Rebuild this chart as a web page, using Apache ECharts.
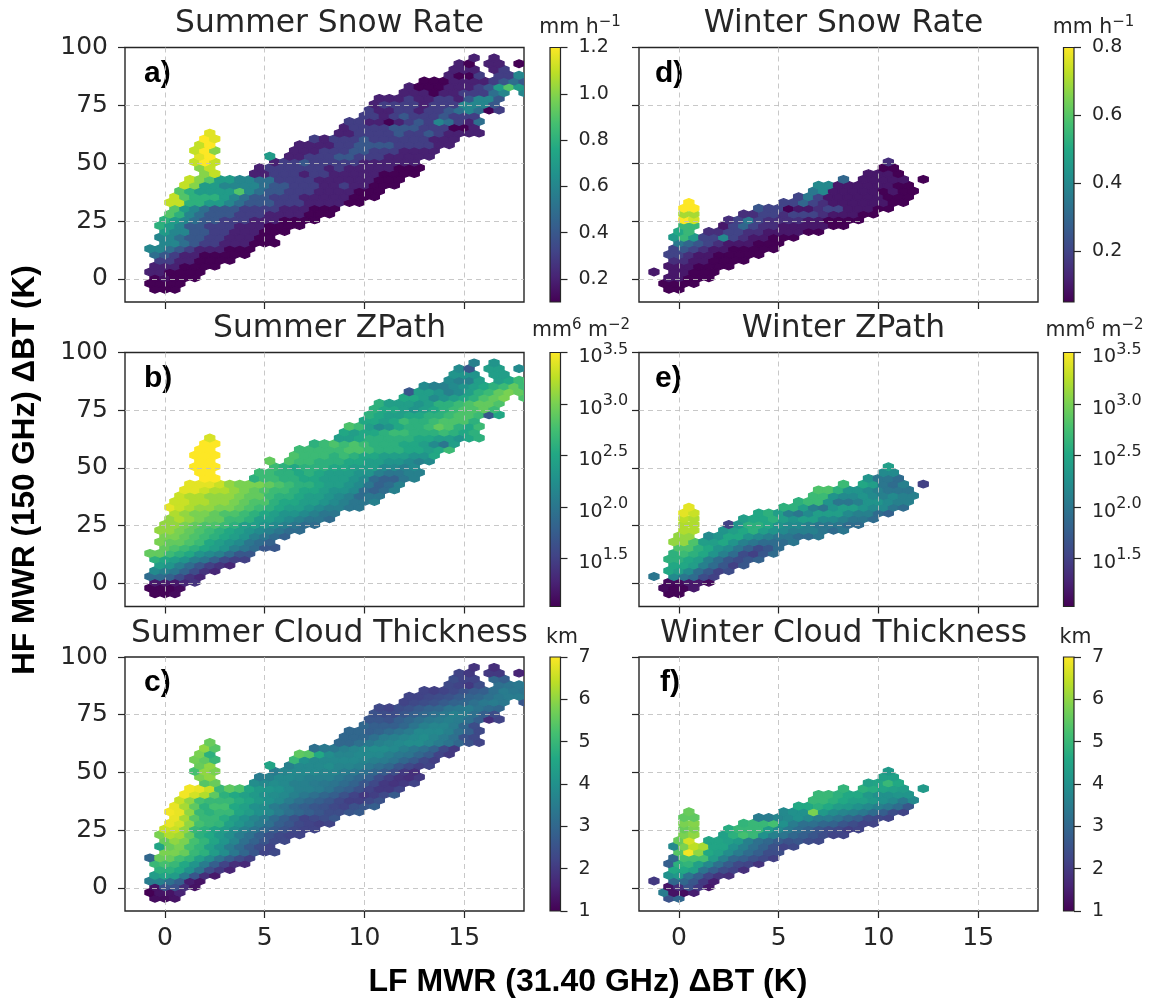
<!DOCTYPE html>
<html>
<head>
<meta charset="utf-8">
<style>html,body{margin:0;background:#fff}#chart{width:1149px;height:1002px}</style>
<script src="https://cdn.jsdelivr.net/npm/echarts@6/dist/echarts.min.js"></script>
</head>
<body>
<div id="chart"></div>
<script>
const _ = null;
const xTicks = [0, 5, 10, 15];
const yTicks = [0, 25, 50, 75, 100];
const cellWidth = 0.5;

// hex rows: row height (K) and x of first cell (K)
const summerY = [-4.5,-2,.5,3,5.5,8,10.5,13,15.5,18,20.5,23,25.5,28,30.5,33,35.5,38,40.5,43,45.5,48,50.5,53,55.5,58,60.5,63,65.5,68,70.5,73,75.5,78,80.5,83,85.5,88,90.5,93,95.5];
const summerStart = [-.5,-.75,-.5,-.75,-.5,-.25,-.5,-.75,0,-.25,0,-.25,0,.25,.5,.25,.5,.75,1,1.25,4.5,4.75,5.5,5.25,6.5,6.75,7.5,8.75,9,9.25,10,10.25,10.5,10.75,12,12.25,13,14.25,14.5,14.75,15.5];
const summerSpikeY = [45.5,48,50.5,53,55.5,58,60.5,63];
const summerSpikeStart = [2,1.75,1.5,1.75,1.5,1.75,2,2.25];
const winterY = [-4.5,-2,.5,3,5.5,8,10.5,13,15.5,18,20.5,23,25.5,28,30.5,33,35.5,38,40.5,43,45.5,48,50.5];
const winterStart = [-.5,-.75,-.5,-1.25,-.5,-.25,-.5,-.25,0,-.25,0,2.25,2.5,3.25,4,5.25,6,6.75,7,8.25,9.5,10.25,10.5];
const winterSpikeY = [23,25.5,28,30.5,33];
const winterSpikeStart = [.25,.25,.25,.25,.5];

// a) summer snow rate, mm/h
const snowSummer = [
[.1,.1,.1],[.1,.1,.1,.1],[.1,.15,.1,.1,.1],[.2,.2,.1,.1,.1,.1],[.2,.2,.2,.1,.1,.1,.1],[.3,.3,.2,.2,.1,.1,.1,.1],
[.5,.4,.3,.2,.2,.1,.1,.1,.1,.1],[.6,.6,.5,.4,.3,.2,.2,.2,.1,.1,.1],[.6,.6,.5,.4,.3,.3,.2,.2,.2,.1,.1,.1],
[.6,.6,.5,.4,.4,.3,.3,.2,.2,.2,.1,.1],[.7,.6,.6,.4,.4,.3,.3,.2,.2,.2,.1,.1,.1],[.8,.7,.6,.4,.4,.3,.3,.3,.2,.2,.2,.1,.1,.1,.1],
[.8,.7,.6,.5,.4,.4,.3,.3,.3,.2,.2,.2,.1,.1,.1,.1],[.9,.8,.6,.5,.4,.4,.4,.3,.3,.3,.2,.2,.2,.2,.1,.1,.1],
[.9,.7,.6,.5,.4,.4,.4,.3,.3,.3,.3,.2,.2,.2,.1,.1,.1],[1.1,1.1,.8,.8,.7,.7,.6,.5,.4,.4,.4,.3,.3,.3,.2,.2,.2,.2,.1,.1],
[1.1,.9,.8,.8,.8,.7,.6,.5,.4,.4,.3,.3,.3,.2,.2,.2,.2,.2,.1,.1,.1],[.9,.8,.7,.7,.7,.7,.9,.6,.5,.4,.4,.3,.3,.3,.2,.2,.2,.2,.1,.1,.1],
[1.1,1,.7,.7,.6,.6,.6,.6,.5,.4,.4,.3,.3,.3,.2,.2,.3,.2,.2,.1,.1,.1],[1.1,1,.9,.7,.7,.6,.6,.5,.5,.3,.3,.3,.3,.2,.2,.2,.2,.2,.2,.1,.1,.1],
[.2,.2,.3,.3,.3,.2,.3,.3,.2,.2,.2,.2,.2,.1,.1,.1,.1],[.2,.3,.3,.3,.3,.3,.3,.2,.3,.2,.2,.2,.2,.2,.1,.1,.1],
[.2,.3,.3,.4,.3,.3,.3,.3,.3,.2,.2,.2,.2,.2,.2],[.7,_,.2,.2,.3,.3,.3,.4,.4,.3,.3,.3,.2,.2,.2,.2,.2],
[.2,.2,.2,.3,.3,.3,.4,.4,.3,.3,.3,.2,.2,.2,.2],[.2,.2,.2,.2,.3,.3,.4,.4,.4,.4,.3,.3,.3,.3,.2,.2],
[.3,.2,.3,.3,.3,.4,.3,.3,.3,.3,.3,.3,.2,.2,.2],[.2,.2,.3,.3,.3,.3,.4,.3,.3,.4,.3,.2,.2,.2,.2],
[.2,.3,.3,.3,.3,.4,.4,.4,.3,.3,.3,.1,.1,.2],[.3,.3,.2,.2,.1,.2,.3,.4,.3,.6,.5,.3,.2,.5],
[.3,.3,.2,.3,.4,.3,.3,.3,.4,.3,.3,.3],[.3,.2,.2,.3,.3,.2,.3,.3,.4,.5,.6,.5,.1,.3],
[.2,.3,.3,.3,.3,.2,.3,.3,.3,.6,.6,.6,.4],[.2,.2,.2,.3,.2,.2,.3,.3,.2,.4,.6,.6,.4],
[.2,.2,.2,.1,.2,.2,.3,.3,.3,.5,.6,_,.6],[.2,.1,.1,.1,.2,.2,.2,.3,.4,.7,.9,.7,.6],
[.1,.1,.1,.2,.2,.2,.2,.3,.4,.5,.4],[.2,.1,.1,.3,_,.3,.3,.6,.6],[.2,.2,.2,_,.2,.3],[.2,.1,_,.2,.2,_,.1,.1,.1],[.2,_,.2]
];
const snowSummerSpike = [[1,1.1],[1,1.1],[1.1,1.2,1.1],[1.15,1.2],[1.1,1.2,1],[1.1,1.2],[1.2,1.15],[1.15]];

// b) summer ZPath, log10 mm6 m-2
const zpathSummer = [
[1.05,1.05,1.1],[1.05,1.05,1.05,1.1],[1.2,1.2,1.2,1.3,1.4],[1.9,1.9,1.8,1.6,1.4,1.3],[2.2,2.1,2,1.8,1.6,1.4,1.3],[2.4,2.3,2.1,1.9,1.7,1.5,1.4,1.3],
[2.6,2.5,2.4,2.3,2.1,2,1.8,1.6,1.5,1.5],[2.9,2.9,2.7,2.6,2.5,2.3,2.2,2.1,1.9,1.7,1.7],[2.9,2.8,2.7,2.6,2.5,2.4,2.3,2.1,2,1.9,1.7,1.7],
[3,2.9,2.9,2.8,2.7,2.5,2.4,2.3,2.2,2,1.9,1.8],[3,3,2.9,2.8,2.7,2.6,2.5,2.4,2.3,2.1,2,1.9,1.8],[3.1,3.1,3,2.9,2.8,2.7,2.6,2.5,2.4,2.3,2.2,2.1,2,1.9,1.9],
[3.1,3.1,3,2.9,2.8,2.8,2.7,2.6,2.4,2.4,2.3,2.2,2.1,2,1.9,1.9],[3.1,3.2,3.1,3,2.9,2.9,2.7,2.7,2.6,2.4,2.4,2.3,2.2,2.1,2,2,1.9],
[3.2,3.1,3,3,2.9,2.8,2.8,2.7,2.6,2.5,2.4,2.3,2.3,2.2,2.1,2,2],[3.4,3.3,3.2,3.1,3.1,3,3,2.9,2.8,2.7,2.6,2.5,2.4,2.4,2.3,2.2,2.1,2.1,2,2],
[3.3,3.3,3.2,3.2,3.1,3.1,3,2.9,2.8,2.8,2.6,2.5,2.5,2.4,2.4,2.3,2.2,2.1,2,2,2.1],[3.3,3.2,3.2,3.1,3.1,3.1,3,2.9,2.9,2.7,2.6,2.6,2.5,2.4,2.4,2.3,2.2,2.1,1.9,2,2],
[3.4,3.4,3.3,3.2,3.2,3.1,3,2.9,2.8,2.7,2.7,2.6,2.5,2.5,2.4,2.3,2.3,2.2,1.9,1.8,1.9,2.1],[3.4,3.4,3.4,3.3,3.1,3,3,3,2.9,2.8,2.7,2.6,2.6,2.5,2.4,2.4,2.3,2.2,2,1.8,1.9,2.1],
[2.6,2.7,2.7,2.6,2.6,2.5,2.5,2.4,2.4,2.4,2.3,2.2,1.9,1.8,1.8,2,2.1],[2.7,2.7,2.6,2.6,2.5,2.6,2.5,2.4,2.4,2.4,2.3,2.3,2.1,2,2,2.1,2.1],
[2.7,2.6,2.5,2.6,2.6,2.6,2.5,2.5,2.4,2.4,2.4,2.2,2.2,2.1,2.2],[2.9,_,2.8,2.7,2.7,2.6,2.6,2.6,2.5,2.5,2.4,2.4,2.3,2.3,2.2,2.1,2.2],
[2.8,2.7,2.7,2.7,2.6,2.7,2.6,2.5,2.5,2.4,2.4,2.4,2.3,2.3,2.5],[2.7,2.7,2.7,2.7,2.7,2.8,2.8,2.7,2.6,2.6,2.6,2.5,2.5,2.4,2.5,2.7],
[2.6,2.7,2.8,2.7,2.8,2.7,2.6,2.6,2.6,2.5,2.5,2.4,2.2,2,2.4],[2.4,2.4,2.5,2.6,2.6,2.6,2.6,2.6,2.5,2.5,2.4,2.4,2.3,2.5,2.6],
[2.5,2.4,2.5,2.5,2.6,2.7,2.7,2.6,2.6,2.6,2.7,2.6,2.5,2.6],[2.8,2.7,2.4,2.2,2.3,2.5,2.6,2.6,2.7,2.9,2.8,2.6,2.5,2.7],
[2.5,2.5,2.4,2.5,2.7,2.6,2.6,2.7,2.8,2.8,2.8,2.6],[2.6,2.5,2.4,2.4,2.5,2.5,2.6,2.6,2.7,2.8,2.8,2.7,1.7,2.5],
[2.6,2.5,2.5,2.4,2.3,2.4,2.5,2.6,2.7,2.8,2.8,2.9,2.7],[2.6,2.4,2.4,2.4,2.3,2.4,2.6,2.6,2.7,2.8,2.9,2.9,2.8],
[2.5,2.5,2.4,2.2,2.3,2.4,2.5,2.6,2.8,2.9,3,_,2.8],[1.7,2.4,2.4,2.3,2.1,2.2,2.4,2.6,2.7,2.9,3,2.9,2.7],
[2.2,2.1,2.1,2.2,2.3,2.4,2.5,2.6,2.7,2.9,2.7],[2.2,2.1,2.1,2.4,_,2.4,2.5,2.7,2.8],[2.3,2.3,2.3,_,2.4,2.4],[2.2,1.7,_,2.4,2.4,_,2.2,2.2,2.2],[2.1,_,2.3]
];
const zpathSummerSpike = [[3.5,3.5],[3.5,3.5],[3.5,3.5,3.5],[3.5,3.5],[3.5,3.5,3.5],[3.5,3.5],[3.5,3.5],[3.35]];

// c) summer cloud thickness, km
const thickSummer = [
[1.2,1.2,1.3],[1,1.3,1.3,1.6],[1.3,2.5,2.5,1.8,1.3],[3.5,3.6,3.2,2.8,1.5,1.3],[4.3,4.5,4.3,3.5,2.6,1.8,1.4],[4.8,4.8,4.6,4,3.3,2.4,2,1.6],
[5,5.2,5,4.6,4.1,3.5,2.8,2.2,1.8,1.7],[3,5.6,5.6,5.2,4.9,4.4,3.9,3.3,2.8,2.4,2.1],[5.8,5.8,5.6,5,4.8,4.3,3.9,3.4,3,2.6,2.2,2.3],
[4.5,5.6,5.8,5.2,4.9,4.4,4,3.5,3.1,2.7,2.4,2.2],[5.6,6,5.8,5.2,4.9,4.5,4.1,3.7,3.2,2.9,2.6,2.3,2.3],[5.8,6.3,6.2,5.6,4.8,4.6,4.2,3.9,3.5,3.2,2.8,2.5,2.3,2.2,2.2],
[6.5,6.5,6,5,4.8,4.5,4.3,3.9,3.6,3.3,3,2.7,2.5,2.3,2.2,2.2],[6.8,6.6,6,5.2,5,4.9,4.4,4.1,3.8,3.5,3.2,2.8,2.6,2.3,2.2,2.1,2.2],
[6.8,6.2,5.4,5,5,4.7,4.3,4,3.7,3.5,3.1,2.8,2.5,2.2,2.3,2.4,2.6],[6.9,6.8,6,5,4.8,5,5,4.5,4.3,4,3.8,3.5,3.2,3,2.8,2.6,2.4,2.4,2.6,2.7],
[6.8,6.2,5.5,4.8,5.2,5.2,4.6,4.4,4,3.9,3.5,3.3,3,2.8,2.6,2.5,2.3,2.2,2.5,2.6,2.8],[6.5,6,5.2,5,5,5,4.7,4.5,4.2,4,3.8,3.5,3.2,3,2.8,2.6,2.3,2.1,2.1,2.3,2.5],
[6.9,6.6,6.3,5.5,4.8,4.6,4.4,4.2,4,3.9,3.8,3.6,3.4,3.2,3,2.8,2.5,2.2,2,2.1,2.3,2.7],[6.9,6.8,6.5,5,5.5,5.3,4.5,4.2,4.1,4,3.8,3.6,3.6,3.5,3.3,3,2.8,2.5,2.2,2,2,2.2],
[3.9,3.8,3.9,3.8,3.6,3.6,3.5,3.4,3.3,3.1,2.9,2.6,2.3,2,1.9,2,2.2],[3.5,3.6,3.8,3.8,3.7,3.6,3.6,3.6,3.4,3.2,3,2.8,2.4,2.1,1.9,1.8,2],
[3.5,3.7,3.8,3.8,3.8,3.7,3.7,3.5,3.4,3.2,3,2.7,2.4,2,1.8],[4.5,_,3.6,3.8,3.8,3.8,3.9,3.7,3.7,3.6,3.4,3.2,3,2.6,2.3,2.1,2.2],
[5,4,3.8,3.8,3.8,3.8,3.8,3.7,3.6,3.5,3.3,3,2.7,2.3,2.1],[5.5,5.4,4.6,3.9,3.7,3.7,3.8,3.8,3.8,3.6,3.4,3.3,3,2.7,2.2,2],
[3.2,3.4,3.4,3.6,3.7,3.8,3.9,3.9,3.8,3.6,3.4,3.2,2.9,2.3,2],[3,3,3.2,3.4,3.6,3.7,3.8,3.9,3.9,3.7,3.5,3.3,3,2.5,2.2],
[3,3,3,3.2,3.5,3.6,3.7,3.8,3.9,3.7,3.5,3.2,2.5,2.3],[3,3,2.8,2.9,3.1,3.3,3.5,3.8,3.8,3.8,3.6,3.2,2.8,2.3],
[3,2.8,2.8,2.8,3,3.3,3.6,3.7,3.7,3.5,3,2.4],[2.6,2.6,2.5,2.8,3,3.2,3.4,3.5,3.6,3.5,3.2,2.8,1.8,2.2],
[2.5,2.4,2.4,2.6,2.8,3,3.2,3.4,3.6,3.5,3.2,2.8,2.4],[2.3,2.2,2.4,2.5,2.7,2.9,3,3.3,3.4,3.5,3.3,3.1,3],
[2.2,2.3,2.4,2.5,2.7,2.9,3,3.2,3.4,3.5,3.4,_,2.6],[2.2,2.2,2.3,2.4,2.5,2.7,2.9,3,3.2,3.4,3.5,3.5,3.4],
[2.2,2.1,2.2,2.3,2.5,2.7,2.8,3.2,3.5,3.4,3.3],[2.3,2.2,2,2.4,_,3.2,3.3,3.4,3.4],[2.4,2.2,2.2,_,3,2.8],[2.2,2,_,2,2,_,1.6,1.4,1.7],[1.9,_,1.8]
];
const thickSummerSpike = [[5.4,5.6],[5.8,6],[5.2,6,5.8],[5.6,6],[5.7,5.5,5],[5.8,4.8],[6,5.4],[5.6]];

// d) winter snow rate
const snowWinter = [
[.05,.05],[.05,.05,.05,.05],[.1,.1,.05,.05,.05],[.1,_,.1,.1,.05,.05,.05],[.1,.1,.1,.05,.05,.05,.05],[.15,.15,.1,.1,.05,.05,.05,.05],
[.2,.2,.15,.1,.1,.05,.05,.05,.05,.05],[.2,.25,.2,.15,.1,.1,.05,.05,.05,.05,.05],[.35,.3,.25,.2,.15,.1,.1,.1,.05,.05,.05],
[.45,.55,.45,.2,.2,.4,.2,.15,.1,.1,.05,.05,.05],[.5,.55,_,.15,.15,.2,.2,.15,.15,.1,.1,.1,.1,.05,.05],
[.1,.2,.3,.2,.15,.15,.1,.1,.1,.1,.1,.05,.05],[.15,.2,.35,.2,.15,.15,.15,.15,.1,.1,.05,.05,.05,.05],[.15,.15,.2,.2,.15,.2,.2,.2,.15,.1,.1,.1,.05,.05],
[.25,.2,.2,.05,.1,.1,.15,.2,.2,.1,.1,.1,.05,.05],[.2,.2,.3,.2,.15,.1,.1,.1,.1,.1,.1,.05,.05],[.2,.35,.2,.1,.1,.1,.1,.1,.1,.05,.05,.05],
[.35,.4,.1,.1,.1,.1,.1,.05,.1,.05,.05],[.4,.4,.1,.1,.1,.1,.1,.1,.05,.05],[.3,_,.1,.1,.1,.1,.1,_,.05],[.1,.1,.1,.05],[.05,.05],[.15]
];
const snowWinterSpike = [[.55,.55],[.8,.75],[.7,.7],[.8,.8],[.8]];

// e) winter ZPath
const zpathWinter = [
[1.05,1.05],[1.1,1.05,1.05,1.2],[1.1,1.1,1.2,1.2,1.1],[2,_,2.2,2,1.9,1.6,1.5],[2.5,2.4,2.2,1.9,1.7,1.5,1.6],[2.5,2.5,2.4,2.1,1.9,1.7,1.5,1.7],
[2.6,2.6,2.5,2.4,2.1,1.9,1.7,1.6,1.7,1.8],[2.6,2.7,2.6,2.5,2.3,2.1,1.9,1.6,1.5,1.7,1.9],[2.8,2.8,2.6,2.5,2.3,2.2,2,1.8,1.6,1.7,1.9],
[3.1,3.1,2.8,2.4,2.4,2.5,2.3,2.1,2,1.9,1.9,1.9,2],[3.1,3.1,_,2.2,2.3,2.5,2.5,2.3,2.2,2.1,2,2,1.9,1.9,2],
[2.3,2.4,2.5,2.6,2.4,2.3,2.2,2.1,2.1,2.1,2,1.9,2],[1.5,2.3,2.6,2.6,2.5,2.3,2.2,2.2,2.1,2,2,2,1.9,1.9],[2.4,2.5,2.5,2.6,2.4,2.3,2.4,2.4,2.2,2.2,2.1,2,2,1.9],
[2.5,2.6,2.4,2.1,2,2.2,2.4,2.4,2.4,2.2,2.1,2.1,1.9,1.8],[2.6,2.6,2.4,2.1,2,2.3,2.4,2.4,2.3,2.2,2.2,2,1.9],[2.6,2.7,2.7,2.3,2,2,2.1,2.3,2.3,2.2,2.1,2.1],
[2.7,2.7,2.3,2.2,2.2,2.3,2.2,2.1,2.2,2.1,2.1],[2.8,2.8,2.6,2.3,2.3,2.2,2.1,2,2,2],[2.7,_,2.5,2.4,2,1.9,2.1,_,1.5],[2.3,2,2,1.9],[2.2,2.2],[2.4]
];
const zpathWinterSpike = [[3.2,3.2],[3.2,3.2],[3.25,3.2],[3.4,3.3],[3.4]];

// f) winter cloud thickness
const thickWinter = [
[2.5,3],[3.5,1.3,1.2,1.5],[1.3,1.8,2.5,2,1.4],[2,_,3,3,2.6,2,1.5],[4,4.2,3.3,2.8,2.2,1.9,1.8],[4.6,4.6,4.4,3.3,2.8,2.4,2.2,1.8],
[2.8,4.8,4.9,4.4,3.8,3.2,2.7,2.3,2.2,1.9],[3,5.2,5.2,5.2,4.3,3.6,3,2.8,2.5,2.3,2.1],[5.4,6.9,6,4.6,4.4,3.9,3.5,3.1,2.8,2.4,2.4],
[3.8,5.8,6.4,6.2,4.5,4.5,4,3.6,3.2,2.9,2.5,2.2,2.3],[5.6,6.6,_,4.5,4.5,4.4,4.2,3.6,3.2,3,2.7,2.5,2.6,2.4,2.3],
[4.4,4.8,5.2,5,4,3.6,3.3,3,2.8,2.6,2.4,2.2,2.2],[4.7,5,5,5,4.3,3.8,3.4,3.1,2.9,2.6,2.4,2.3,2.1,2.2],[4.9,5,5,5.2,4,3.5,3.2,3.2,3,2.9,2.6,2.4,2.2,2.2],
[3.5,3.5,3.7,3.8,4,3.8,3.5,3.5,3.3,3,2.8,2.4,2.3,2.2],[3.8,4,4,5.8,4.2,3.9,3.7,3.6,3.4,3.1,2.8,2.4,2.2],[4.6,4.6,4.8,4.6,4.3,4.2,4,3.8,3.6,3.4,3.1,2.6],
[5,5,4.8,4.6,4.4,4.4,4.2,4,3.8,3.4,3.8],[5,5,4.8,4.6,4.6,4.2,4,4,4.1,4.1],[4.9,_,4.8,4.7,4.5,4.4,4.3,_,4.2],[4.4,4.5,5,4.6],[4.4,4.4],[4.2]
];
const thickWinterSpike = [[5.8,6],[5.6,5.8],[5.8,5.9],[5.5,5.5],[5.6]];

const viridis = ['#440154','#482475','#414487','#355f8d','#2a788e','#21918c','#22a884','#44bf70','#7ad151','#bddf26','#fde725'];

const snowSummerTicks = [.2,.4,.6,.8,1,1.2];
const snowWinterTicks = [.2,.4,.6,.8];
const zpathTicks = [1.5,2,2.5,3,3.5];
const thickTicks = [1,2,3,4,5,6,7];

function buildCells(ys, starts, rows) {
    const out = [];
    rows.forEach(function (row, j) {
        row.forEach(function (v, k) {
            if (v !== null) out.push([starts[j] + k * cellWidth, ys[j], v]);
        });
    });
    return out;
}

const summerCells = function (band, spike) {
    return buildCells(summerY, summerStart, band).concat(buildCells(summerSpikeY, summerSpikeStart, spike));
};
const winterCells = function (band, spike) {
    return buildCells(winterY, winterStart, band).concat(buildCells(winterSpikeY, winterSpikeStart, spike));
};

const fixed1 = function (v) { return v.toFixed(1); };
const asInt = function (v) { return String(v); };
const asPower = function (v) { return '{b|10}{s|' + v.toFixed(1) + '}'; };

const unitSnow = '{m|mm h}{s|\u22121}';
const unitZ = '{m|mm}{s|6}{m| m}{s|\u22122}';
const unitKm = '{m|km}';

const panels = [
    { title: 'Summer Snow Rate', letter: 'a)', unit: unitSnow, unitDx: 25, unitDy: 41, col: 0, row: 0, cells: summerCells(snowSummer, snowSummerSpike), min: .1, max: 1.2, ticks: snowSummerTicks, fmt: fixed1 },
    { title: 'Summer ZPath', letter: 'b)', unit: unitZ, unitDx: 26, unitDy: 43, col: 0, row: 1, cells: summerCells(zpathSummer, zpathSummerSpike), min: 1.03, max: 3.5, ticks: zpathTicks, fmt: asPower },
    { title: 'Summer Cloud Thickness', letter: 'c)', unit: unitKm, unitDx: 7, unitDy: 41, col: 0, row: 2, cells: summerCells(thickSummer, thickSummerSpike), min: 1, max: 7, ticks: thickTicks, fmt: asInt },
    { title: 'Winter Snow Rate', letter: 'd)', unit: unitSnow, unitDx: 25, unitDy: 41, col: 1, row: 0, cells: winterCells(snowWinter, snowWinterSpike), min: .05, max: .8, ticks: snowWinterTicks, fmt: fixed1 },
    { title: 'Winter ZPath', letter: 'e)', unit: unitZ, unitDx: 26, unitDy: 43, col: 1, row: 1, cells: winterCells(zpathWinter, zpathWinterSpike), min: 1.03, max: 3.5, ticks: zpathTicks, fmt: asPower },
    { title: 'Winter Cloud Thickness', letter: 'f)', unit: unitKm, unitDx: 7, unitDy: 41, col: 1, row: 2, cells: winterCells(thickWinter, thickWinterSpike), min: 1, max: 7, ticks: thickTicks, fmt: asInt }
];

const colLeft = [125, 639];
const colRight = [524, 1038];
const barLeft = [550, 1063.5];
const letterDx = [19, 16];
const rowTop = [47.5, 352.5, 657];
const rowBottom = [302, 606.5, 911];

const textColor = '#262626';
const tickFont = 'DejaVu Sans';

function renderHex(params, api) {
    const c = api.coord([api.value(0), api.value(1)]);
    const s = api.size([cellWidth, 2.5 * 4 / 3]);
    const w = s[0] / 2, r = s[1] / 2;
    const color = api.visual('color');
    return {
        type: 'polygon',
        shape: { points: [[c[0], c[1] - r], [c[0] + w, c[1] - r / 2], [c[0] + w, c[1] + r / 2], [c[0], c[1] + r], [c[0] - w, c[1] + r / 2], [c[0] - w, c[1] - r / 2]] },
        style: { fill: color, stroke: color, lineWidth: 1.3, lineJoin: 'round' }
    };
}

function renderBar(params, api) {
    const lo = api.coord([0, api.value(0)]);
    const hi = api.coord([1, api.value(1)]);
    const stops = viridis.map(function (c, i) { return { offset: 1 - i / (viridis.length - 1), color: c }; });
    return {
        type: 'rect',
        shape: { x: lo[0], y: hi[1], width: hi[0] - lo[0], height: lo[1] - hi[1] },
        style: { fill: new echarts.graphic.LinearGradient(0, 0, 0, 1, stops), stroke: '#262626', lineWidth: 1.2 }
    };
}

const option = { animation: false, backgroundColor: '#fff', grid: [], xAxis: [], yAxis: [], series: [], visualMap: [], title: [], graphic: [] };

panels.forEach(function (p) {
    const gi = option.grid.length;
    const left = colLeft[p.col], right = colRight[p.col], top = rowTop[p.row], bottom = rowBottom[p.row];
    const showX = p.row === 2, showY = p.col === 0;

    option.grid.push({ left: left, top: top, width: right - left, height: bottom - top, show: true, borderColor: '#262626', borderWidth: 1.4, backgroundColor: '#fff' });
    option.xAxis.push({
        type: 'value', gridIndex: gi, min: -2, max: 18, z: 3,
        axisLine: { show: false, onZero: false },
        axisTick: { show: true, length: 7, customValues: xTicks, lineStyle: { color: '#262626', width: 1.2 } },
        axisLabel: { show: showX, customValues: xTicks, formatter: asInt, fontFamily: tickFont, fontSize: 25, color: textColor, margin: 15 },
        splitLine: { show: true, lineStyle: { color: 'rgba(190,190,190,0.85)', type: [5, 4], width: 1 } }
    });
    option.yAxis.push({
        type: 'value', gridIndex: gi, min: -10, max: 100, z: 3,
        axisLine: { show: false, onZero: false },
        axisTick: { show: true, length: 7, customValues: yTicks, lineStyle: { color: '#262626', width: 1.2 } },
        axisLabel: { show: showY, customValues: yTicks, formatter: asInt, fontFamily: tickFont, fontSize: 25, color: textColor, margin: 17 },
        splitLine: { show: true, showMaxLine: false, lineStyle: { color: 'rgba(190,190,190,0.85)', type: [5, 4], width: 1 } }
    });
    const si = option.series.length;
    option.series.push({ type: 'custom', xAxisIndex: gi, yAxisIndex: gi, coordinateSystem: 'cartesian2d', data: p.cells, encode: { x: 0, y: 1 }, renderItem: renderHex, clip: true, z: 1, silent: true });
    option.visualMap.push({ show: false, type: 'continuous', seriesIndex: si, dimension: 2, min: p.min, max: p.max, inRange: { color: viridis } });

    // colour bar, its own small axis
    const bi = option.grid.length;
    const bx = barLeft[p.col];
    option.grid.push({ left: bx, top: top, width: 10.5, height: bottom - top });
    option.xAxis.push({ type: 'value', gridIndex: bi, min: 0, max: 1, show: false });
    option.yAxis.push({
        type: 'value', gridIndex: bi, min: p.min, max: p.max, position: 'right',
        axisLine: { show: false, onZero: false },
        axisTick: { show: true, length: 7, customValues: p.ticks, lineStyle: { color: '#262626', width: 1.2 } },
        axisLabel: {
            show: true, customValues: p.ticks, formatter: p.fmt, fontFamily: tickFont, fontSize: 19, color: textColor, margin: 18,
            rich: {
                b: { fontFamily: tickFont, fontSize: 19, color: textColor, padding: [10, 0, 0, 0] },
                s: { fontFamily: tickFont, fontSize: 16, color: textColor, padding: [0, 0, 6, 0] }
            }
        },
        splitLine: { show: false }
    });
    option.series.push({ type: 'custom', xAxisIndex: bi, yAxisIndex: bi, coordinateSystem: 'cartesian2d', data: [[p.min, p.max]], encode: { y: [0, 1] }, renderItem: renderBar, silent: true });

    option.title.push({ text: p.title, left: (left + right) / 2, top: top - 44, textAlign: 'center', textStyle: { fontFamily: tickFont, fontWeight: 'normal', fontSize: 31.3, color: textColor } });
    option.title.push({
        text: p.unit, left: bx + p.unitDx, top: top - p.unitDy, textAlign: 'center',
        textStyle: {
            fontFamily: tickFont, fontWeight: 'normal', color: textColor,
            rich: {
                m: { fontFamily: tickFont, fontSize: 20.5, color: textColor, padding: [6, 0, 0, 0] },
                s: { fontFamily: tickFont, fontSize: 15, color: textColor, padding: [0, 0, 6, 0] }
            }
        }
    });
    option.graphic.push({ type: 'text', left: left + letterDx[p.col] + (p.letter === 'f)' ? 5 : 0), top: top + 11, style: { text: p.letter, font: 'bold 30px "Liberation Sans"', fill: '#000' } });
});

option.graphic.push({ type: 'text', x: 25, y: 470, rotation: Math.PI / 2, style: { text: 'HF MWR (150 GHz) \u0394BT (K)', font: 'bold 31.5px "Liberation Sans"', fill: '#000', align: 'center', verticalAlign: 'middle' } });
option.graphic.push({ type: 'text', x: 588, y: 982, style: { text: 'LF MWR (31.40 GHz) \u0394BT (K)', font: 'bold 32px "Liberation Sans"', fill: '#000', align: 'center', verticalAlign: 'middle' } });

var myChart = echarts.init(document.getElementById('chart'), null, { renderer: 'canvas' });
myChart.setOption(option);
</script>
</body>
</html>
